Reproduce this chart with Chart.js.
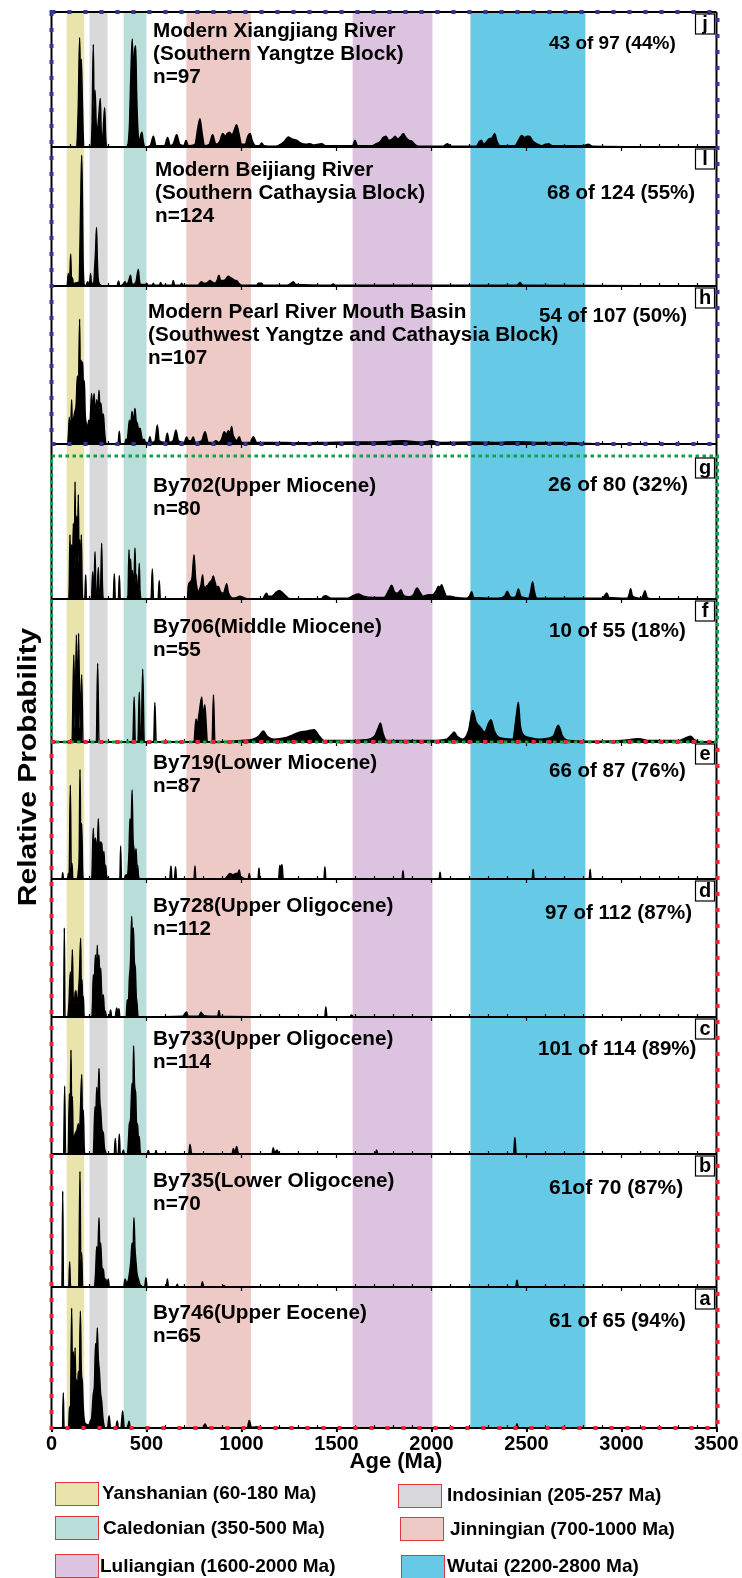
<!DOCTYPE html>
<html>
<head>
<meta charset="utf-8">
<script src="https://cdn.jsdelivr.net/npm/chart.js@4.4.1/dist/chart.umd.min.js"></script>
<style>
  body { margin: 0; background: #fff; }
  #wrap { position: relative; width: 742px; height: 1578px; }
  #legend div { position: absolute; }
  .box { width: 42px; height: 22px; border: 1.5px solid #e2353c; }
  .lab { font: bold 19px "Liberation Sans", Arial, sans-serif; color: #000; line-height: 22px; white-space: nowrap; }
</style>
</head>
<body>
<div id="wrap">
  <canvas id="myChart" width="742" height="1578"></canvas>
  <div id="legend"></div>
</div>
<script>
// age bands (Ma) as drawn in the figure
const bandStarts = [80, 200, 380, 710, 1585, 2205];
const bandEnds = [172, 295, 500, 1050, 2005, 2810];
const bandColors = ['#e9e4ab', '#d9d9db', '#b9ddd8', '#eecac7', '#dcc3df', '#66cae6'];
const legendNames = ['Yanshanian (60-180 Ma)', 'Indosinian (205-257 Ma)', 'Caledonian (350-500 Ma)',
  'Jinningian (700-1000 Ma)', 'Luliangian (1600-2000 Ma)', 'Wutai (2200-2800 Ma)'];

const xTicks = [0, 500, 1000, 1500, 2000, 2500, 3000, 3500];

// panels, top to bottom
const panelIds = ['j', 'l', 'h', 'g', 'f', 'e', 'd', 'c', 'b', 'a'];
const panelTitles = [
  ['Modern Xiangjiang River', '(Southern Yangtze Block)', 'n=97'],
  ['Modern Beijiang River', '(Southern Cathaysia Block)', 'n=124'],
  ['Modern Pearl River Mouth Basin', '(Southwest Yangtze and Cathaysia Block)', 'n=107'],
  ['By702(Upper Miocene)', 'n=80'],
  ['By706(Middle Miocene)', 'n=55'],
  ['By719(Lower Miocene)', 'n=87'],
  ['By728(Upper Oligocene)', 'n=112'],
  ['By733(Upper Oligocene)', 'n=114'],
  ['By735(Lower Oligocene)', 'n=70'],
  ['By746(Upper Eocene)', 'n=65'],
];
const panelCounts = ['43 of 97 (44%)', '68 of 124 (55%)', '54 of 107 (50%)', '26 of 80 (32%)', '10 of 55 (18%)',
  '66 of 87 (76%)', '97 of 112 (87%)', '101 of 114 (89%)', '61of 70 (87%)', '61 of 65 (94%)'];

// relative probability curves, [age Ma, % of panel height]
const panelJ = [[0,0],[130,0],[141,30],[148,81],[153,50],[157,65],[163,30],[170,0],
  [205,0],[214,20],[220,76],[224,30],[229,42],[236,15],[241,12],[250,25],[257,36],[262,10],[268,5],[275,20],[280,29],[285,8],[290,0],
  [396,0],[410,15],[418,55],[425,80],[432,50],[437,70],[443,75],[448,40],[455,12],[462,4],[470,9],[476,11],[483,4],[492,0],
  [520,1],[536,8],[550,1],[595,1],[611,7],[625,1],[640,2],[659,9],[675,2],[697,1],[708,5],[720,1],[755,2],[770,14],[781,21],[793,10],[805,1],
  [830,2],[848,9],[865,2],[885,4],[901,10],[915,8],[925,10],[936,11],[950,9],[963,13],[974,16.5],[988,9],[1000,2],[1020,2],[1033,8],[1045,10],
  [1058,4],[1075,1],[1095,1],[1106,3],[1118,1],[1180,0.5],[1225,4],[1246,7.4],[1265,6],[1290,5],[1310,3],[1340,2],[1360,2.5],[1380,1.5],
  [1405,2],[1422,2.5],[1440,1],[1480,1],[1585,1],[1597,5],[1610,1],[1690,1],[1703,2],[1730,4],[1745,7],[1760,8],[1775,5],[1795,6],[1808,8],
  [1822,6],[1840,8],[1852,10],[1865,7],[1880,5],[1896,4.4],[1915,1.5],[1935,0.5],[2060,0.5],[2083,2.5],[2105,0.5],[2235,0.5],[2252,4],
  [2262,5],[2275,2],[2290,4],[2302,6],[2320,7],[2332,10],[2345,4],[2360,1],[2440,1],[2458,5],[2474,8.6],[2492,7],[2503,8],[2515,8],
  [2535,4],[2560,2],[2580,1],[2600,2],[2615,2.5],[2635,1],[2800,1],[2825,2],[2850,0.5],[3500,0]];
const panelL = [[0,0],[82,0],[88.6,9],[93,2],[97,8],[101,23],[105,4],[110,6],[115,1],[120,2],[146,3],[150,30],[155,70],[159,94],[163,60],
  [166,20],[169,5],[172,1],[180,0],[190,3],[196,1],[202,4],[206,9],[210,2],[222,2],[228,15],[232,25],[237,42],[241,20],[245,6],[250,2],
  [256,1],[265,0],[345,0],[353,3.6],[360,0],[375,1],[387,3],[395,1],[405,3],[411,6],[416,7.7],[421,3],[430,1],[445,3],[451,8],[457,11.8],
  [462,5],[468,1],[495,1],[501,2],[507,0.5],[530,0.5],[536,2],[542,0.5],[568,0.5],[574.5,2.5],[581,0.5],[634,0.5],[641,4],[648,0.5],
  [678,0.5],[685,2],[692,0.5],[770,0.5],[780,2],[790,3],[800,2],[815,2],[825,3],[834,4],[845,3],[860,2],[872,4],[881,7.7],[890,4],
  [905,4],[918,5],[930,7],[942,6],[955,5],[965,4],[974,4],[985,2],[1001,0.5],[1080,0.5],[1090,2],[1097,2],[1105,2],[1115,0.5],
  [1240,0.5],[1262,2],[1273,3],[1285,1],[1470,0.5],[1483,1.5],[1495,0.5],[2450,0.5],[2466,2.5],[2480,0.5],[3500,0]];
const panelH = [[0,0],[85,0],[90,8],[94,17],[98,5],[102,10],[106,28],[110,10],[115,15],[122,20],[130,25],[136,43],[142,35],[148,79],
  [152,40],[157,53],[161,40],[164,52],[168,35],[173,40],[177,20],[180,15],[185,12],[190,10],[196,15],[200,12],[205,18],[211,32],[216,22],
  [220,25],[224,32],[230,20],[234,22],[238,28],[244,20],[250,34],[255,22],[260,26],[266,18],[273,19],[279,8],[285,1],[290,0],[350,0],
  [357,8],[363,0],[385,0],[392,3],[398,2],[404,8],[410,15],[416,12],[420,16],[424,20.5],[430,14],[435,18],[439.4,22.5],[445,15],[452,13],
  [458,9],[466,10],[474,5],[480,2],[487,3],[495,1],[510,1],[518,4.6],[526,1],[545,2],[557,12],[567,2],[598,1],[609.5,6.8],[620,1],
  [640,2],[655,8.9],[668,2],[698,1],[711,4.5],[722,2],[735,2],[746,4.5],[757,1],[790,2],[808,7.8],[825,1],[850,1],[865.6,2],[880,1],
  [895,3],[909,7.8],[920,6],[930.5,8.4],[940,7],[948,11],[955,6],[962,4],[975,2],[988,4.6],[1000,1],[1045,1],[1062,4.6],[1080,1],
  [1150,1],[1300,0.8],[1450,1],[1600,1.2],[1750,1.5],[1850,2],[1950,1.2],[2000,2],[2050,1],[2200,1.2],[2350,1],[2450,1.5],[2550,1],
  [2700,1],[2800,0.5],[2900,0],[3500,0]];
const panelG = [[0,0],[92,0],[97.4,45],[101,10],[106,38],[110,15],[115,53],[120,20],[124,82],[128,25],[132.5,58],[137,30],[141,73],
  [145,25],[148,41.5],[152,15],[157,45],[161,10],[164,0],[175,0],[180,17],[184,0],[210,0],[217,19],[221,3],[225,10],[229,33],[234,5],
  [240,4],[246.5,22],[251,4],[256,3],[260,15],[264,39],[268,10],[273,0],[325,0],[330.6,17.7],[336,0],[352,0],[357,16.5],[362,0],
  [402,0],[408,34.5],[412,10],[416.6,28],[421,12],[426,20],[431,8],[435,15],[439.4,35.7],[444,12],[448,17],[452,5],[458,10],[462,25],
  [466,5],[474.5,0],[524,0],[530.6,21],[537,0],[561,0],[567,13],[573,0],[715,0],[720,9],[730,12],[740,15],[750,31],[758,15],[765,8],
  [773,5],[780,7],[787,10],[795.5,17],[800,10],[808,8],[816.5,9],[825,10],[835,12],[843,13],[851.5,16],[860,12],[870,8],[878,9],
  [890,5],[905,4],[915,8],[922,10.7],[930,5],[940,2],[955,0.5],[975,1],[992,2],[1010,1],[1036,0],[1110,0],[1125,3],[1132,4],[1140,2],
  [1160,2],[1180,4.5],[1199,6],[1215,4.5],[1235,2],[1255,0],[1420,0],[1432,1.8],[1444,2.3],[1456,1.5],[1470,0.5],[1560,0.5],[1590,2.5],
  [1615,3.5],[1640,2],[1700,1],[1750,1],[1775,6],[1790,9.6],[1805,5],[1818,4],[1830,5],[1839,6.5],[1850,3],[1880,1.5],[1905,3],
  [1915,6],[1925,7.7],[1938,5],[1955,2],[1983,3],[2005,3],[2025,6],[2036,9],[2045,8],[2053,10],[2065,6],[2080,2],[2097,2],[2130,1],
  [2180,0.5],[2200,2],[2211,5],[2222,1],[2350,0.5],[2385,2],[2399,5.4],[2412,2],[2430,1],[2445,2],[2457,7],[2470,2],[2490,1],
  [2510,0.5],[2520,4],[2532,12],[2542,5],[2555,0.5],[2900,0.5],[2912,2.5],[2922,4.2],[2935,1],[3030,0.5],[3040,3],[3048,7.2],
  [3058,2],[3105,0.5],[3115,3],[3123,5.8],[3135,1],[3160,0],[3500,0]];
const panelF = [[0,0],[108,0],[117.5,61],[124,10],[131,75],[137,10],[142.6,76],[150,10],[158.6,47],[166,0],[236,0],[243,55],[250,0],
  [428,0],[435,31.5],[441,0],[455,0],[462,35],[468,0],[472,0],[480,51],[488,0],[538,0],[544,27.6],[551,0],[750,0],[756,10],[761,16],
  [767,12],[777,20],[791,31.5],[797,18],[807,26],[815,10],[820,0],[845,0],[852.5,33],[860,0],[880,0],[944,0.5],[1000,1],[1060,2],
  [1090,4],[1115,7.7],[1135,4],[1172,2],[1230,3],[1270,5],[1309,7],[1340,7.5],[1382,8.6],[1410,4],[1434,1],[1500,1],[1583,1],
  [1650,1.5],[1700,4],[1720,10],[1731,13.3],[1745,6],[1765,1],[1880,1],[1993,1],[2080,2],[2105,5],[2119,7],[2135,4],[2165,2],
  [2195,8],[2217,22],[2235,14],[2256,10.5],[2280,7],[2300,13],[2313,15.6],[2330,8],[2359,3],[2427,2],[2448,20],[2457,27.8],[2467,12],
  [2484,5],[2520,3],[2564,2],[2640,4],[2667,11.7],[2690,4],[2724,1],[2850,0.5],[3000,1],[3089,2.3],[3150,1],[3300,1],[3340,3],
  [3363,4],[3385,1.5],[3420,0],[3500,0]];
const panelE = [[0,0],[55,0],[59,4.6],[63,0],[85,0],[88.6,4],[93,2],[99,68.6],[104,8],[108,11.4],[112,0],[135,0],[141,5],[146,20],
  [150,80],[154,30],[159,40.6],[164,5],[168,0],[212,0],[220,37],[224,15],[230,30],[236,25],[241,20],[246.5,44],[251,20],[256,27],
  [264,26],[270,15],[276,20],[280,8],[285,10],[290,2],[300,0],[360,0],[364,24],[368,0],[383,0],[390,3],[400,3],[408,20],[413,44],
  [418,30],[424,65],[429,30],[434,22],[440,15],[445,22],[450,8],[453,10],[458,2],[465,0],[622,0],[629,9.5],[634,0],[647,0],[653,9],
  [658,0],[750,0],[755,9.5],[760,0],[910,0],[925,2],[939,4],[955,3],[970,4],[980,4],[988,6.6],[995,2],[1035,0],[1041,4],[1047,0],
  [1087,0],[1092,8],[1097,0],[1195,0],[1202,10],[1207,7],[1213,10.5],[1220,0],[1434,0],[1439,9],[1444,0],[1845,0],[1850,6],[1855,0],
  [2040,0],[2045,5],[2050,0],[2530,0],[2535,7],[2540,0],[2830,0],[2835,7],[2840,0],[3500,0]];
const panelD = [[0,0],[64,0],[67.5,64.5],[71,0],[85,0],[92,10],[99,32.6],[103,10],[110,49],[114,15],[120,10],[125,18],[129,19],
  [133,10],[140,15],[147,30],[153.5,57],[157,20],[160.5,27],[164,10],[167.5,15],[172,0],[212,0],[216,10],[220,30.7],[224,20],[231,45],
  [236,25],[241,52],[245,30],[250,45],[254,25],[259,35.5],[265,15],[273,16],[278,5],[283,4],[290,0],[305,0],[311,5],[317,0],[335,0],
  [343,6.5],[349,3],[355,6],[360,0],[393,0],[399,12.5],[404,8],[410,28],[416,40],[422,73],[426,55],[431,64.5],[436,40],[441,35.5],
  [446,15],[450,10],[456,0],[690,0.5],[711,3.6],[720,0.5],[775,0.5],[787,3.4],[800,1],[875,0.5],[881.5,4.8],[888,0.5],[1438,0],
  [1444,7.2],[1450,0],[1570,0],[1579,1.5],[1590,0],[3500,0]];
const panelC = [[0,0],[64,0],[69.3,49.6],[74,0],[88,0],[94,44],[98,20],[102.6,76],[106,30],[110,42],[114,10],[125,15],[135,18],
  [141,22],[147,15],[152,30],[159,58],[163,25],[167.5,32],[172,5],[176,0],[220,0],[229,34.5],[233,25],[238,48.7],[243,30],[250,62.5],
  [254,40],[259,32],[265,18],[273,15],[278,5],[283,2],[290,0],[330,0],[336,11.4],[341,0],[351,0],[357,14.6],[362,0],[372,0],[378,3],
  [384,0],[400,0],[405,10],[410,22],[416,25],[424,51.6],[428,35],[432,79],[437,50],[443,44],[448,20],[453,22],[458,8],[462,12.7],
  [466,3],[472,0],[503,0],[509.5,2.5],[516,0],[544,0],[550,2.5],[556,0],[722,0],[729,7],[736,1],[742,0],[950,0],[957,4],[965,1],
  [974,5.4],[982,1],[990,0],[1160,0],[1167,4.6],[1174,1],[1188,3],[1196,0],[1704,0],[1711,3],[1718,0],[2432,0],[2439,12],[2446,0],
  [3500,0]];
const panelB = [[0,0],[55,0],[59,72],[63,0],[91,0],[95.6,19],[100,0],[143,0],[150,87],[154,20],[159,25.5],[164,0],[225,0],[232,10],
  [238,30.5],[243,20],[250,52],[254,30],[259,33],[265,15],[273,13],[279,5],[285,6],[292,2],[299,6],[304,0],[380,0],[387,6],[395,3],
  [404,5],[412,12],[418,20],[424,33],[429,25],[434,52],[439,30],[445,18],[450,10],[457,6],[465,2],[472,1],[480,0],[490,0],[497,7],
  [503,0],[604,0],[610,6],[616,0],[655,0],[662,2],[668,0],[787,0],[794,4],[801,0],[898,0],[908,1],[918,0],[2443,0],[2450,5],[2457,0],
  [3500,0]];
const panelA = [[0,0],[58,0],[62,25],[66,0],[90,0],[95,15],[100,10],[106,85],[110,40],[115,54],[120,25],[124,57],[128,30],[132.5,34],
  [137,25],[141,40],[146,35],[152,83],[157,40],[162,33],[167,15],[173,5],[180,3],[195,2],[205,5],[212,8],[220,24],[226,30],[232,60],
  [237,50],[241,71],[246,50],[252,40],[258,25],[264,19],[270,8],[276,2],[283,0],[295,0],[303,8.7],[311,0],[338,0],[346,5],[352,0],
  [365,0],[374.5,12],[383,0],[400,0],[408,4.7],[415,0],[795,0],[808,2.8],[820,0],[1030,0],[1041,5.4],[1052,0.5],[1097,1],[1105,0],
  [2443,0],[2450,3],[2457,0],[3500,0]];
const panelData = [panelJ, panelL, panelH, panelG, panelF, panelE, panelD, panelC, panelB, panelA];

// layout of the stacked panels (pixel heights) and text placement
const panelHeights = [135, 139, 158, 143, 143, 137, 138, 137, 133, 141];
const gapHeight = 12;
const titleX = [153, 155, 148, 153, 153, 153, 153, 153, 153, 153];
const titleOffset = [25, 29, 32, 36, 34, 27, 33, 28, 33, 32];
const countX = [549, 547, 539, 548, 549, 549, 545, 538, 549, 549];
const countOffset = [37, 52, 36, 35, 38, 35, 40, 38, 40, 40];
const countSize = [19, 20.5, 20.5, 21, 20.5, 20.5, 20.5, 20.5, 21, 20.5];

const FONT = '"Liberation Sans", Arial, sans-serif';

const scales = {
  x: {
    type: 'linear', min: 0, max: 3500, position: 'bottom',
    afterBuildTicks: (axis) => { axis.ticks = xTicks.map(v => ({ value: v })); },
    afterFit: (axis) => { axis.height = 150; },
    ticks: { color: '#000', font: { family: FONT, size: 20, weight: 'bold' }, padding: 0, maxRotation: 0, autoSkip: false,
      callback: (v) => String(v) },
    grid: { drawOnChartArea: false, drawTicks: true, tickLength: 4, color: '#000', lineWidth: 2 },
    border: { display: true, color: '#000', width: 2 },
  },
};
// left stack: higher weight goes on top
panelIds.forEach((id, i) => {
  scales['y' + id] = { type: 'linear', display: false, min: 0, max: 100, stack: 'panels',
    stackWeight: panelHeights[i], weight: 20 - i - (i > 2 ? 1 : 0) };
});
scales.ygap = { type: 'linear', display: false, min: 0, max: 1, stack: 'panels', stackWeight: gapHeight, weight: 17 };

const datasets = panelIds.map((id, i) => ({
  label: id,
  data: panelData[i].map(p => ({ x: p[0], y: p[1] })),
  yAxisID: 'y' + id,
  borderColor: '#000',
  backgroundColor: '#000',
  borderWidth: 1.5,
  fill: 'origin',
  pointRadius: 0,
  cubicInterpolationMode: 'monotone',
}));

const decorations = {
  id: 'decorations',
  beforeDatasetsDraw(chart) {
    const { ctx, chartArea: ca, scales: { x } } = chart;
    ctx.save();
    bandStarts.forEach((s, i) => {
      const x0 = x.getPixelForValue(s);
      const x1 = x.getPixelForValue(bandEnds[i]);
      ctx.fillStyle = bandColors[i];
      ctx.fillRect(x0, ca.top, x1 - x0, ca.bottom - ca.top);
    });
    ctx.restore();
  },
  afterDatasetsDraw(chart) {
    const { ctx, chartArea: ca, scales: sc } = chart;
    const x = sc.x;
    ctx.save();
    ctx.strokeStyle = '#000';
    ctx.lineWidth = 2;
    // panel baselines with ticks
    panelIds.forEach((id) => {
      const y = sc['y' + id].bottom;
      ctx.beginPath();
      ctx.moveTo(ca.left, y);
      ctx.lineTo(ca.right, y);
      ctx.stroke();
      ctx.lineWidth = 1.2;
      for (let v = 100; v < 3500; v += 100) {
        const px = x.getPixelForValue(v);
        ctx.beginPath();
        if (v % 500 === 0) { ctx.moveTo(px, y); ctx.lineTo(px, y + 4); }
        else { ctx.moveTo(px, y - 3); ctx.lineTo(px, y); }
        ctx.stroke();
      }
      ctx.lineWidth = 2;
    });
    ctx.beginPath();
    ctx.moveTo(ca.left, ca.top); ctx.lineTo(ca.right, ca.top);
    ctx.moveTo(ca.left, ca.top); ctx.lineTo(ca.left, ca.bottom);
    ctx.moveTo(ca.right, ca.top); ctx.lineTo(ca.right, ca.bottom);
    ctx.stroke();

    // group frames
    const frame = (color, dash, width, top, bottom) => {
      ctx.strokeStyle = color;
      ctx.lineWidth = width;
      ctx.setLineDash(dash);
      ctx.strokeRect(ca.left, top, ca.right - ca.left + 1, bottom - top);
    };
    frame('#34349a', [4, 12], 4, sc.yj.top, sc.yh.bottom);
    frame('#12a04a', [3.5, 3.5], 3, sc.yg.top, sc.yf.bottom);
    frame('#ec2530', [4, 12], 4, sc.ye.top, sc.ya.bottom);
    ctx.setLineDash([]);

    // panel texts and letter boxes
    ctx.fillStyle = '#000';
    ctx.textBaseline = 'alphabetic';
    panelIds.forEach((id, i) => {
      const top = sc['y' + id].top;
      ctx.font = 'bold 20.7px ' + FONT;
      ctx.textAlign = 'left';
      panelTitles[i].forEach((line, k) => ctx.fillText(line, titleX[i], top + titleOffset[i] + k * 23));
      ctx.font = 'bold ' + countSize[i] + 'px ' + FONT;
      ctx.fillText(panelCounts[i], countX[i], top + countOffset[i]);
      const bx = ca.right - 21, by = top + 2;
      ctx.fillStyle = '#fff';
      ctx.fillRect(bx, by, 19, 20);
      ctx.strokeStyle = '#000';
      ctx.lineWidth = 1.2;
      ctx.strokeRect(bx, by, 19, 20);
      ctx.fillStyle = '#000';
      ctx.font = 'bold 20px ' + FONT;
      ctx.textAlign = 'center';
      ctx.fillText(id, bx + 9.5, by + 16);
    });

    // axis titles
    ctx.font = 'bold 22px ' + FONT;
    ctx.textAlign = 'center';
    ctx.textBaseline = 'middle';
    ctx.fillText('Age (Ma)', 396, 1462);
    ctx.translate(29, 767);
    ctx.rotate(-Math.PI / 2);
    ctx.scale(1.2, 1);
    ctx.font = 'bold 25px ' + FONT;
    ctx.fillText('Relative Probability', 0, 0);
    ctx.restore();
  },
};

new Chart(document.getElementById('myChart'), {
  type: 'line',
  data: { datasets },
  options: {
    responsive: false,
    animation: false,
    devicePixelRatio: 1,
    layout: { padding: { left: 51.5, right: 25.5, top: 12, bottom: 0 } },
    plugins: { legend: { display: false }, tooltip: { enabled: false } },
    scales,
  },
  plugins: [decorations],
});

// legend
const legendBox = [[55, 1482], [398, 1484], [55, 1516], [400, 1517], [55, 1554], [401, 1555]];
const legendText = [[102, 1482], [447, 1484], [103, 1517], [450, 1518], [100, 1555], [447, 1555]];
const legend = document.getElementById('legend');
legendNames.forEach((name, i) => {
  const b = document.createElement('div');
  b.className = 'box';
  b.style.left = legendBox[i][0] + 'px';
  b.style.top = legendBox[i][1] + 'px';
  b.style.background = bandColors[i];
  legend.appendChild(b);
  const t = document.createElement('div');
  t.className = 'lab';
  t.style.left = legendText[i][0] + 'px';
  t.style.top = legendText[i][1] + 'px';
  t.textContent = name;
  legend.appendChild(t);
});
</script>
</body>
</html>
